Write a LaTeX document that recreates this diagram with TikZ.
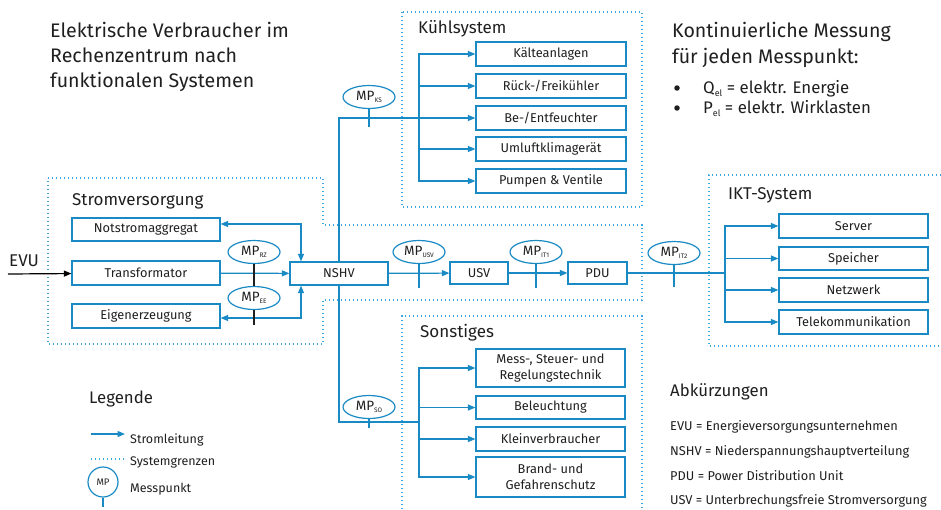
\documentclass[tikz,border=0pt]{standalone}
\usepackage{fontspec}
\setmainfont{Fira Sans}
\usetikzlibrary{arrows.meta,calc,shapes.geometric}
\definecolor{lb}{HTML}{1A8AC4}
\definecolor{db}{HTML}{3BA7DC}
\definecolor{tx}{HTML}{1F1F1F}
\newcommand\mpsub[1]{MP\raisebox{-2.5pt}{\fontsize{6.5}{6.5}\selectfont #1}}
\newcommand\elsub{\raisebox{-3pt}{\fontsize{9}{9}\selectfont el}}
\begin{document}
\begin{tikzpicture}[x=1pt,y=-1pt,
  box/.style={draw=lb, line width=1.2pt, inner sep=0pt, font=\fontsize{12.8}{15.5}\selectfont, text=tx, align=center},
  mp/.style={ellipse, draw=lb, line width=1.2pt, minimum width=52pt, minimum height=23pt, inner sep=0pt, font=\fontsize{13.5}{13.5}\selectfont, text=tx, fill=white},
  ln/.style={draw=lb, line width=1.2pt},
  arr/.style={ln, -{Triangle[length=7.5pt,width=6pt]}},
  arrboth/.style={ln, {Triangle[length=7.5pt,width=6pt]}-{Triangle[length=7.5pt,width=6pt]}},
  sysb/.style={draw=db, line width=1.2pt, dash pattern=on 1.1pt off 2.9pt},
  big/.style={font=\fontsize{19.6}{22}\selectfont, text=tx, anchor=base west, inner sep=0pt},
  ttl/.style={font=\fontsize{17}{20}\selectfont, text=tx, anchor=base west, inner sep=0pt},
  sttl/.style={font=\fontsize{16.8}{20}\selectfont, text=tx, anchor=base west, inner sep=0pt},
  bul/.style={circle, fill=tx, minimum size=5.5pt, inner sep=0pt},
  small/.style={font=\fontsize{12.5}{14}\selectfont, text=tx, anchor=base west, inner sep=0pt},
  abbr/.style={font=\fontsize{12.8}{14}\selectfont, text=tx, anchor=base west, inner sep=0pt}
]
\useasboundingbox (0,0) rectangle (941,509);

% system borders
\draw[sysb] (48,178) -- (323,178) -- (323,225) -- (642,225) -- (642,300) -- (323,300) -- (323,344) -- (48,344) -- cycle;
\draw[sysb] (402,12) rectangle (642,207);
\draw[sysb] (402,509) -- (402,316) -- (642,316) -- (642,509);
\draw[sysb] (941,175) -- (709,175) -- (709,346) -- (941,346);

% titles
\node[big] (t1) at (50,37.5) {Elektrische Verbraucher im};
\node[big] (t2) at (50,62.5) {Rechenzentrum nach};
\node[big] (t3) at (50,87.5) {funktionalen Systemen};
\node[big] (k1) at (672,37) {Kontinuierliche Messung};
\node[big] (k2) at (672,63) {für jeden Messpunkt:};
\node[bul] (b1) at (677,88) {};
\node[bul] (b2) at (677,108) {};
\node[sttl] (q1) at (703,93) {Q\elsub{} = elektr. Energie};
\node[sttl] (q2) at (703,113) {P\elsub{} = elektr. Wirklasten};

\node[ttl] (sv) at (72,205) {Stromversorgung};
\node[ttl] (ks) at (418,33) {Kühlsystem};
\node[ttl] (so) at (420,337) {Sonstiges};
\node[ttl] (ikt) at (728,199) {IKT-System};
\node[ttl] (evut) at (9,266) {EVU};

% Stromversorgung boxes
\node[box, minimum width=148pt, minimum height=23pt] (notstrom) at (146,229.5) {Notstromaggregat};
\node[box, minimum width=148pt, minimum height=24pt] (trafo) at (146,273) {Transformator};
\node[box, minimum width=148pt, minimum height=24pt] (eigen) at (146,316) {Eigenerzeugung};
\node[box, minimum width=98pt, minimum height=23pt] (nshv) at (339,273.5) {NSHV};
\node[box, minimum width=58pt, minimum height=22pt] (usv) at (479,273) {USV};
\node[box, minimum width=59pt, minimum height=22pt] (pdu) at (597.5,273) {PDU};

% Kuehlsystem boxes
\node[box, minimum width=150pt, minimum height=24pt] (kb1) at (551,54) {Kälteanlagen};
\node[box, minimum width=150pt, minimum height=24pt] (kb2) at (551,86) {Rück-/Freikühler};
\node[box, minimum width=150pt, minimum height=24pt] (kb3) at (551,118) {Be-/Entfeuchter};
\node[box, minimum width=150pt, minimum height=24pt] (kb4) at (551,149) {Umluftklimagerät};
\node[box, minimum width=150pt, minimum height=24pt] (kb5) at (551,181) {Pumpen \& Ventile};

% Sonstiges boxes
\node[box, minimum width=149pt, minimum height=38pt] (sb1) at (550.5,368) {Mess-, Steuer- und\\Regelungstechnik};
\node[box, minimum width=149pt, minimum height=23pt] (sb2) at (550.5,407.5) {Beleuchtung};
\node[box, minimum width=149pt, minimum height=24pt] (sb3) at (550.5,439) {Kleinverbraucher};
\node[box, minimum width=149pt, minimum height=40pt] (sb4) at (550.5,477) {Brand- und\\Gefahrenschutz};

% IKT boxes
\node[box, minimum width=149pt, minimum height=24pt] (ik1) at (853.5,226) {Server};
\node[box, minimum width=149pt, minimum height=23pt] (ik2) at (853.5,258.5) {Speicher};
\node[box, minimum width=149pt, minimum height=24pt] (ik3) at (853.5,290) {Netzwerk};
\node[box, minimum width=149pt, minimum height=24pt] (ik4) at (853.5,322) {Telekommunikation};

% connectors
\coordinate (evu) at (8,274);
\draw[line width=1.2pt, black, -{Triangle[length=7.5pt,width=6pt]}] (evu) -- (trafo);
\draw[arr] (trafo) -- (nshv);
\draw[arrboth] ([xshift=-38pt]nshv.north) |- ([yshift=5.5pt]notstrom.east);
\draw[arrboth] ([xshift=-38pt]nshv.south) |- ([yshift=-2pt]eigen.east);
\draw[arr] (nshv) -- (usv);
\draw[arr] (usv) -- (pdu);

\coordinate (kbr) at (419,118);
\draw[arr] (nshv.north) |- (kb3.west);
\draw[arr] (kbr) |- (kb1.west);
\draw[arr] (kbr) |- (kb2.west);
\draw[arr] (kbr) |- (kb4.west);
\draw[arr] (kbr) |- (kb5.west);

\coordinate (sbr) at (419,422);
\draw[ln] (nshv.south) |- (sbr);
\draw[arr] (sbr) |- (sb1.west);
\draw[arr] (sbr) |- (sb2.west);
\draw[arr] (sbr) |- (sb3.west);
\draw[arr] (sbr) |- (sb4.west);

\coordinate (ibr) at (725,273);
\draw[ln] (pdu) -- (ibr);
\draw[arr] (ibr) |- (ik1.west);
\draw[arr] (ibr) |- (ik2.west);
\draw[arr] (ibr) |- (ik3.west);
\draw[arr] (ibr) |- (ik4.west);

% measuring points
\node[mp] (mpks) at (369,97) {\mpsub{KS}};
\draw[ln] (mpks.south) -- ++(0,17.5);
\node[mp] (mpso) at (369,407) {\mpsub{SO}};
\draw[ln] (mpso.south) -- ++(0,8.5);
\node[mp] (mprz) at (254,252) {\mpsub{RZ}};
\node[mp] (mpee) at (254,298) {\mpsub{EE}};
\draw[line width=1.2pt, tx] (mprz.south) -- (mpee.north);
\draw[line width=1.2pt, tx] (mpee.south) -- ++(0,15);
\node[mp] (mpusv) at (419,252) {\mpsub{USV}};
\draw[ln] (mpusv.south) -- ++(0,23.5);
\node[mp] (mpit1) at (536,252) {\mpsub{IT1}};
\draw[ln] (mpit1.south) -- ++(0,23.5);
\node[mp] (mpit2) at (674,253) {\mpsub{IT2}};
\draw[ln] (mpit2.south) -- ++(0,21.5);

% legend
\node[sttl] (leg) at (89,403) {Legende};
\coordinate (la1) at (91,434);
\coordinate (la2) at (125,434);
\draw[arr] (la1) -- (la2);
\coordinate (ld1) at (91,459);
\coordinate (ld2) at (125,459);
\draw[sysb] (ld1) -- (ld2);
\node[circle, draw=lb, line width=1.2pt, minimum size=30pt, inner sep=0pt, font=\fontsize{9.5}{9.5}\selectfont, text=tx] (legmp) at (103,482) {MP};
\draw[ln] (legmp.south) -- ++(0,9);
\node[small] (l1) at (130,443) {Stromleitung};
\node[small] (l2) at (130,465) {Systemgrenzen};
\node[small] (l3) at (130,492) {Messpunkt};

% abbreviations
\node[sttl] (abk) at (670,396) {Abkürzungen};
\node[abbr] (a1) at (670,430) {EVU = Energieversorgungsunternehmen};
\node[abbr] (a2) at (670,455) {NSHV = Niederspannungshauptverteilung};
\node[abbr] (a3) at (670,480) {PDU = Power Distribution Unit};
\node[abbr] (a4) at (670,504) {USV = Unterbrechungsfreie Stromversorgung};
\end{tikzpicture}
\end{document}
